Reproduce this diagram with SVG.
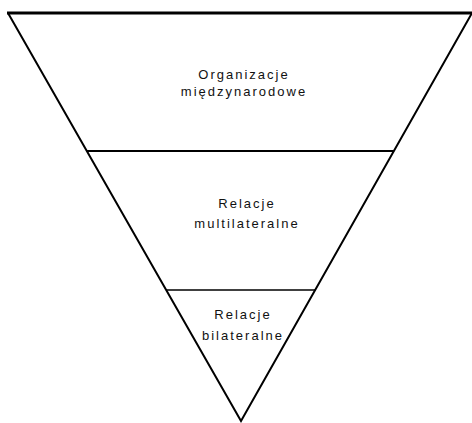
<svg xmlns="http://www.w3.org/2000/svg" width="472" height="423" viewBox="0 0 472 423">
  <style>
    .tier { fill: #ffffff; stroke: none; }
    .edge { fill: none; stroke: #000000; stroke-linejoin: miter; stroke-linecap: butt; }
    .lbl { font-family: "Liberation Sans", Arial, sans-serif; font-size: 13px; fill: #111111; text-anchor: middle; letter-spacing: 2px; }
  </style>
  <rect width="472" height="423" fill="#ffffff"/>
  <g id="tier-organizacje">
    <polygon class="tier" points="8,13 472,13 393.9,151 86.8,151"/>
    <text class="lbl" x="244" y="79">Organizacje</text>
    <text class="lbl" x="244" y="96">międzynarodowe</text>
  </g>
  <g id="tier-multilateralne">
    <polygon class="tier" points="86.8,151 393.9,151 315.2,290 166.2,290"/>
    <text class="lbl" x="247" y="208">Relacje</text>
    <text class="lbl" x="247" y="228">multilateralne</text>
  </g>
  <g id="tier-bilateralne">
    <polygon class="tier" points="166.2,290 315.2,290 241,421"/>
    <text class="lbl" x="243" y="319">Relacje</text>
    <text class="lbl" x="243" y="340">bilateralne</text>
  </g>
  <g id="connectors">
    <line class="edge" x1="7" y1="13" x2="472" y2="13" stroke-width="3"/>
    <polyline class="edge" points="8,13 241,421 472,13" stroke-width="2"/>
    <line class="edge" x1="86.8" y1="151" x2="393.9" y2="151" stroke-width="2"/>
    <line class="edge" x1="166.2" y1="290" x2="315.2" y2="290" stroke-width="1.3"/>
  </g>
</svg>
